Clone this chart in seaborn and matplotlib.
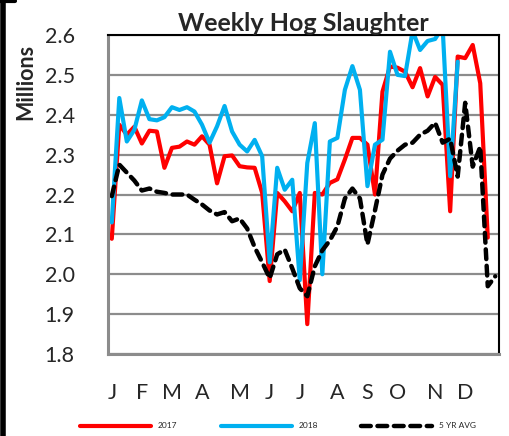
import numpy as np
import pandas as pd
import seaborn as sns
import matplotlib.pyplot as plt
from matplotlib.lines import Line2D

# weekly slaughter, millions of head (week 1..52)
y2017 = [2.089, 2.375, 2.35, 2.37, 2.328, 2.36, 2.358, 2.267, 2.317, 2.32,
         2.333, 2.325, 2.346, 2.325, 2.228, 2.296, 2.298, 2.271, 2.268, 2.267,
         2.204, 1.983, 2.204, 2.183, 2.158, 2.204, 1.875, 2.204, 2.2, 2.229,
         2.238, 2.288, 2.342, 2.342, 2.325, 2.2, 2.458, 2.521, 2.518, 2.508,
         2.469, 2.517, 2.446, 2.495, 2.475, 2.158, 2.546, 2.542, 2.575, 2.479,
         2.092, None]
y2018 = [2.13, 2.442, 2.333, 2.362, 2.436, 2.389, 2.386, 2.394, 2.419, 2.412,
         2.419, 2.408, 2.375, 2.33, 2.371, 2.422, 2.358, 2.325, 2.308, 2.337,
         2.296, 2.03, 2.267, 2.212, 2.237, 1.985, 2.279, 2.379, 2.0, 2.333,
         2.342, 2.4625, 2.522, 2.4625, 2.221, 2.325, 2.3375, 2.558, 2.5, 2.497,
         2.61, 2.5625, 2.585, 2.59, 2.62, 2.246, 2.533, None, None, None,
         None, None]
avg5 = [2.196, 2.275, 2.255, 2.235, 2.21, 2.215, 2.207, 2.204, 2.2, 2.2,
        2.2, 2.187, 2.175, 2.16, 2.15, 2.156, 2.133, 2.14, 2.115, 2.068,
        2.03, 1.99, 2.05, 2.062, 2.015, 1.965, 1.945, 2.02, 2.06, 2.085,
        2.12, 2.19, 2.215, 2.19, 2.075, 2.16, 2.25, 2.29, 2.31, 2.325,
        2.33, 2.35, 2.36, 2.38, 2.33, 2.34, 2.245, 2.43, 2.27, 2.32,
        1.97, 1.995]

month_labels = ["J", "F", "M", "A", "M", "J", "J", "A", "S", "O", "N", "D"]
month_weeks = [0, 4, 8, 12, 17, 21, 25, 30, 34, 38, 43, 47]

weeks = np.arange(len(avg5))
df = pd.DataFrame({"week": weeks,
                   "y2017": pd.array(y2017, dtype="Float64").astype(float),
                   "y2018": pd.array(y2018, dtype="Float64").astype(float),
                   "avg5": avg5})

sns.set_style("white")
plt.rcParams["font.family"] = ["Lato", "DejaVu Sans"]

fig = plt.figure(figsize=(5.1, 4.36), dpi=100)
ax = fig.add_axes([0.2118, 0.188, 0.7667, 0.7317])

sns.lineplot(data=df, x="week", y="y2017", ax=ax, color="#FF0000", lw=3.0,
             label="2017")
sns.lineplot(data=df, x="week", y="y2018", ax=ax, color="#00B0F0", lw=3.0,
             label="2018")
sns.lineplot(data=df, x="week", y="avg5", ax=ax, color="black", lw=3.2,
             linestyle=(0, (2.2, 1.5)), dash_capstyle="round",
             label="5 YR AVG")

ax.set_xlim(-0.5, 51.5)
ax.set_ylim(1.8, 2.6)
ax.set_yticks(np.arange(1.8, 2.61, 0.1))
ax.set_yticklabels([f"{v:.1f}" for v in np.arange(1.8, 2.61, 0.1)], fontsize=15.5)
ax.set_xticks(month_weeks)
ax.set_xticklabels(month_labels, fontsize=15.5)
ax.set_xticks(np.arange(-0.5, 52, 1), minor=True)
ax.tick_params(axis="x", which="major", length=0, pad=21)
ax.tick_params(axis="x", which="minor", length=6, width=1.4, color="#9a9a9a",
               direction="out")
ax.tick_params(axis="y", length=0, pad=24)
ax.set_xlabel("")
ax.set_ylabel("")

ax.grid(axis="y", color="#8c8c8c", lw=1.6)
ax.set_axisbelow(True)
for side in ["top", "right"]:
    ax.spines[side].set_color("black")
    ax.spines[side].set_linewidth(1.5)
for side in ["left", "bottom"]:
    ax.spines[side].set_color("#8c8c8c")
    ax.spines[side].set_linewidth(2.2)

ax.set_title("Weekly Hog Slaughter", fontsize=18, fontweight="bold", pad=3)
fig.text(0.05, 1 - 82 / 436, "Millions", rotation=90, ha="center",
         va="center", fontsize=15.5, fontweight="bold")

handles, labels = ax.get_legend_handles_labels()
ax.get_legend().remove()
fig.legend(handles, labels, loc="center", bbox_to_anchor=(0.545, 0.023),
           ncol=3, frameon=False, fontsize=6, handlelength=8.5,
           handletextpad=0.8, columnspacing=5.2)

# dark edge at the left of the picture
fig.add_artist(Line2D([0.005, 0.005], [0, 1], color="black", lw=4))
fig.add_artist(Line2D([0, 0.03], [0.997, 0.997], color="black", lw=3))

fig.savefig("out.png", dpi=100)
